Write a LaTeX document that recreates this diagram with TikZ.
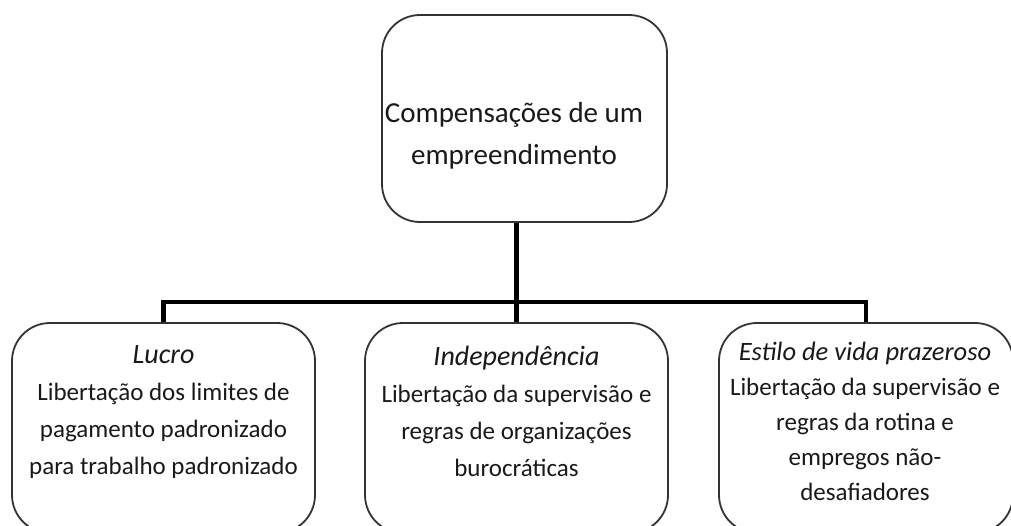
\documentclass[tikz,border=0pt]{standalone}
\usepackage{fontspec}
\setmainfont{Carlito}
\begin{document}
\begin{tikzpicture}[x=1pt,y=-1pt,
  box/.style={draw=black!80, line width=1.8pt, rounded corners=38pt, inner sep=0pt},
  txt/.style={text=black!90, align=center, inner sep=0pt, font=\fontsize{25}{37}\selectfont},
  hd/.style={font=\fontsize{28}{37}\selectfont\itshape},
  conn/.style={draw=black, line width=4.5pt}]
\useasboundingbox (0,0) rectangle (1011,525);
% top box
\node[box, minimum width=285pt, minimum height=207pt] (top) at (524.5,118.5) {};
\node[text=black!90, align=center, inner sep=0pt, font=\fontsize{29}{42}\selectfont] (toptxt) at (514,136) {Compensações de um\\empreendimento};
% lower boxes
\node[box, minimum width=303pt, minimum height=210pt] (lb) at (163.5,428) {};
\node[box, minimum width=303pt, minimum height=210pt] (mb) at (516.5,428) {};
\node[box, minimum width=294pt, minimum height=210pt] (rb) at (866,428) {};
\node[txt] (lt) at (163.5,412) {{\fontsize{28}{37}\selectfont\itshape Lucro}\\Libertação dos limites de\\pagamento padronizado\\para trabalho padronizado};
\node[txt] (mt) at (516.5,411) {{\fontsize{28}{37}\selectfont\itshape Independência}\\Libertação da supervisão e\\regras de organizações\\burocráticas};
\node[txt, font=\fontsize{25}{35}\selectfont] (rt) at (865,421) {{\fontsize{26.5}{35}\selectfont\itshape Estilo de vida prazeroso}\\Libertação da supervisão e\\regras da rotina e\\empregos não-\\desafiadores};
% connectors
\coordinate (j) at (516.5,302);
\draw[conn] (top.south -| mb.north) -- (mb.north);
\draw[conn] (lb.north) |- (j) -| (rb.north);
\end{tikzpicture}
\end{document}
